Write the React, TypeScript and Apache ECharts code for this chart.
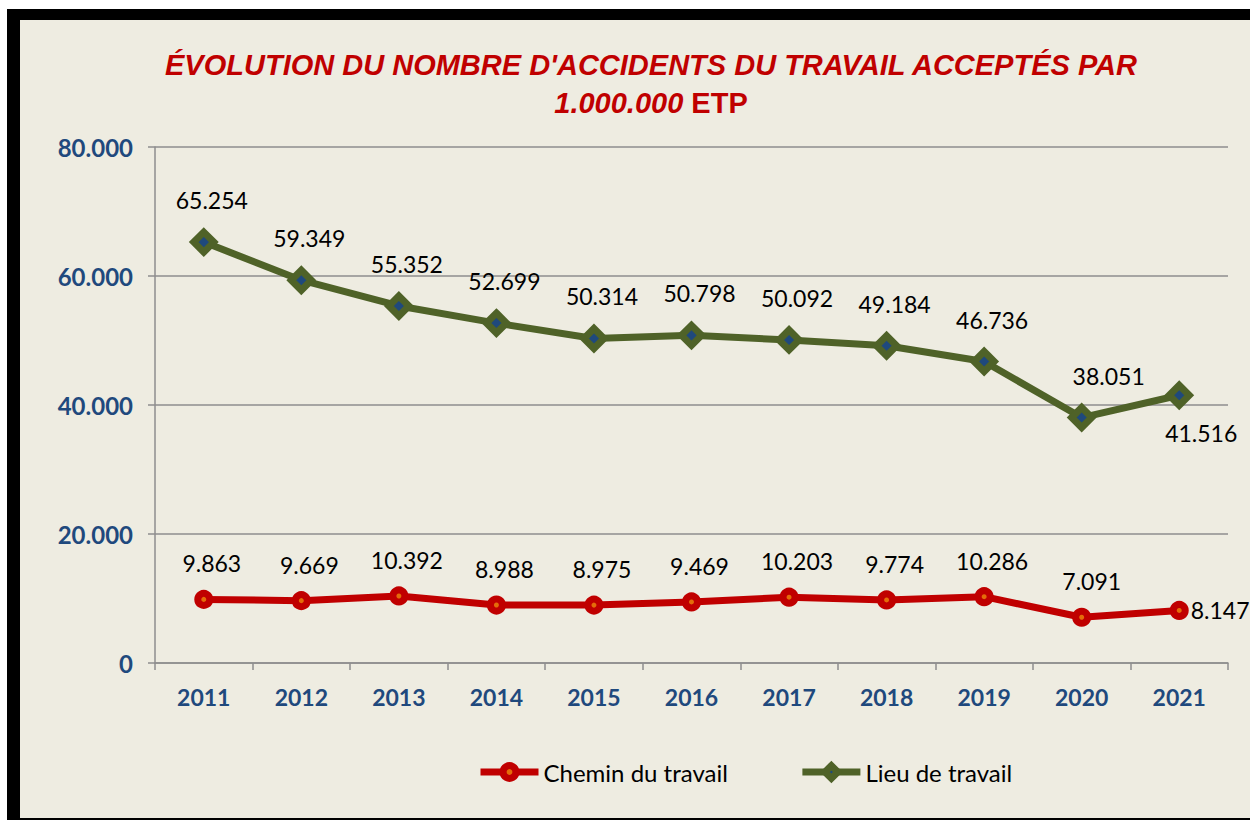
import React, { useEffect, useRef } from "react";
import * as echarts from "echarts";

const years = ["2011", "2012", "2013", "2014", "2015", "2016", "2017", "2018", "2019", "2020", "2021"];
const cheminValues = [9863, 9669, 10392, 8988, 8975, 9469, 10203, 9774, 10286, 7091, 8147];
const lieuValues = [65254, 59349, 55352, 52699, 50314, 50798, 50092, 49184, 46736, 38051, 41516];
const yMax = 80000;
const yInterval = 20000;
const seriesNames = ["Chemin du travail", "Lieu de travail"];
const titleLine1 = "ÉVOLUTION DU NOMBRE D'ACCIDENTS DU TRAVAIL ACCEPTÉS PAR";
const titleLine2a = "1.000.000";
const titleLine2b = "ETP";

const fmt = (v: number) => String(Math.round(v)).replace(/\B(?=(\d{3})+(?!\d))/g, ".");

const BG = "#EEECE1";
const RED = "#C00000";
const ORANGE = "#E46C0A";
const GREEN = "#4F6228";
const BLUE = "#1F497D";
const GRID = "#8E8E8E";
const LABEL_FONT = "Lato, 'Open Sans', sans-serif";
const TITLE_FONT = "'Liberation Sans', Arial, sans-serif";
const TITLE_SIZE = 29;

export default function App() {
  const ref = useRef<HTMLDivElement>(null);

  useEffect(() => {
    if (!ref.current) return;
    const chart = echarts.init(ref.current, null, { renderer: "svg" });

    const labelBase = {
      show: true,
      color: "#000",
      fontFamily: LABEL_FONT,
      fontSize: 23,
      formatter: (p: any) => fmt(p.value),
    };

    const cheminData = cheminValues.map((v, i) => {
      const last = i === cheminValues.length - 1;
      return {
        value: v,
        label: last
          ? { position: "right", distance: 2, offset: [0, 0] }
          : { position: "top", distance: 15, offset: [i === 9 ? 10 : 8, 0] },
      };
    });

    const lieuData = lieuValues.map((v, i) => {
      const last = i === lieuValues.length - 1;
      return {
        value: v,
        label: last
          ? { position: "bottom", distance: 13, offset: [22, 0] }
          : { position: "top", distance: 17, offset: [i === 9 ? 27 : 8, 0] },
      };
    });

    chart.setOption({
      animation: false,
      backgroundColor: "transparent",
      graphic: [
        {
          type: "text",
          x: 651,
          y: 65,
          style: {
            text: titleLine1,
            fill: RED,
            fontFamily: TITLE_FONT,
            fontSize: TITLE_SIZE,
            fontWeight: "bold",
            fontStyle: "italic",
            align: "center",
            verticalAlign: "middle",
          },
        },
        {
          type: "text",
          x: 651,
          y: 103,
          style: {
            text: `{i|${titleLine2a} }{n|${titleLine2b}}`,
            align: "center",
            verticalAlign: "middle",
            rich: {
              i: {
                fill: RED,
                fontFamily: TITLE_FONT,
                fontSize: TITLE_SIZE,
                fontWeight: "bold",
                fontStyle: "italic",
              },
              n: {
                fill: RED,
                fontFamily: TITLE_FONT,
                fontSize: TITLE_SIZE,
                fontWeight: "bold",
                fontStyle: "normal",
              },
            },
          },
        },
      ],
      grid: { left: 155, right: 22, top: 147, bottom: 157, containLabel: false },
      legend: {
        left: 472,
        top: 755,
        itemWidth: 58,
        itemHeight: 16,
        itemGap: 71,
        textStyle: { color: "#000", fontFamily: LABEL_FONT, fontSize: 24 },
        data: [
          {
            name: seriesNames[0],
            itemStyle: { color: ORANGE, borderColor: RED, borderWidth: 7 },
            lineStyle: { color: RED, width: 7 },
          },
          {
            name: seriesNames[1],
            itemStyle: { color: BLUE, borderColor: GREEN, borderWidth: 7 },
            lineStyle: { color: GREEN, width: 7 },
          },
        ],
      },
      xAxis: {
        type: "category",
        data: years,
        boundaryGap: true,
        axisLine: { show: true, lineStyle: { color: GRID, width: 1.5 } },
        axisTick: { show: true, length: 7, lineStyle: { color: GRID, width: 1.5 } },
        axisLabel: {
          color: BLUE,
          fontFamily: LABEL_FONT,
          fontSize: 23,
          fontWeight: "bold",
          margin: 22,
        },
        splitLine: { show: false },
      },
      yAxis: {
        type: "value",
        min: 0,
        max: yMax,
        interval: yInterval,
        axisLine: { show: true, lineStyle: { color: GRID, width: 1.5 } },
        axisTick: { show: true, length: 7, lineStyle: { color: GRID, width: 1.5 } },
        axisLabel: {
          color: BLUE,
          fontFamily: LABEL_FONT,
          fontSize: 24,
          fontWeight: "bold",
          margin: 22,
          formatter: (v: number) => fmt(v),
        },
        splitLine: { show: true, lineStyle: { color: GRID, width: 1.5 } },
      },
      series: [
        {
          name: seriesNames[0],
          type: "line",
          data: cheminData,
          symbol: "circle",
          symbolSize: 12,
          lineStyle: { color: RED, width: 7 },
          itemStyle: { color: ORANGE, borderColor: RED, borderWidth: 7 },
          label: labelBase,
          z: 3,
        },
        {
          name: seriesNames[1],
          type: "line",
          data: lieuData,
          symbol: "diamond",
          symbolSize: 20,
          lineStyle: { color: GREEN, width: 7 },
          itemStyle: { color: BLUE, borderColor: GREEN, borderWidth: 7 },
          label: labelBase,
          z: 4,
        },
      ],
    });

    return () => chart.dispose();
  }, []);

  return (
    <div
      style={{
        position: "fixed",
        left: 0,
        top: 0,
        width: 1250,
        height: 820,
        overflow: "hidden",
        background: "#fff",
      }}
    >
      <div
        style={{
          position: "absolute",
          left: 7,
          top: 9,
          width: 1260,
          height: 811,
          boxSizing: "border-box",
          borderLeft: "13px solid #000",
          borderTop: "11px solid #000",
          borderBottom: "2px solid #000",
          background: BG,
        }}
      />
      <div
        ref={ref}
        style={{ position: "absolute", left: 0, top: 0, width: 1250, height: 820 }}
      />
    </div>
  );
}
